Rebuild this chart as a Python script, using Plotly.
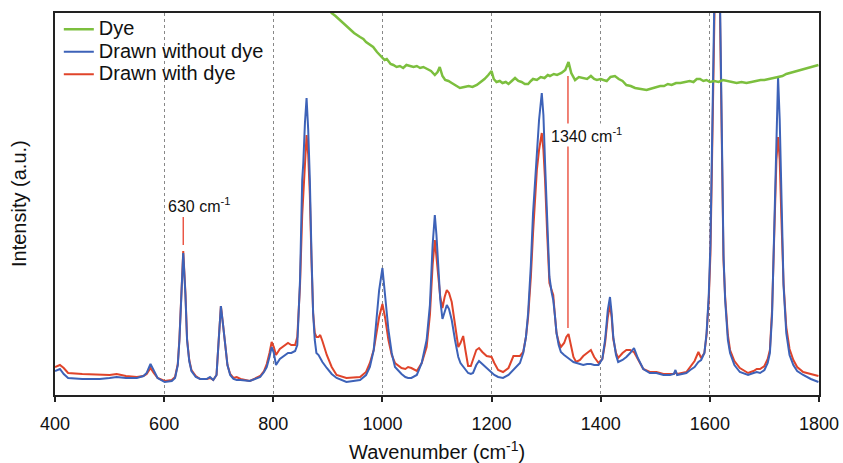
import plotly.graph_objects as go

# ---------------- data ----------------
wavenumber = [400, 409, 416, 424, 450, 482, 500, 513, 530, 550, 562, 568, 575, 581, 588, 601, 614, 620,
              625, 628, 631, 635, 639, 642, 646, 650, 658, 666, 678, 684, 690, 696, 700, 704, 708, 712,
              716, 721, 727, 733, 740, 757, 776, 783, 788, 793, 797, 801, 805, 812, 821, 827, 833, 840,
              844, 849, 853, 855, 858, 861, 864, 867, 870, 873, 876, 879, 883, 886, 890, 898, 907, 916,
              934, 959, 970, 977, 984, 989, 994, 1000, 1005, 1011, 1017, 1023, 1035, 1042, 1047, 1053,
              1063, 1072, 1081, 1087, 1092, 1096, 1099, 1102, 1106, 1110, 1114, 1118, 1122, 1127, 1133,
              1139, 1143, 1148, 1152, 1157, 1162, 1166, 1172, 1177, 1183, 1191, 1200, 1205, 1212, 1221,
              1231, 1240, 1252, 1258, 1263, 1267, 1272, 1276, 1280, 1283, 1287, 1292, 1295, 1298, 1302,
              1306, 1310, 1313, 1316, 1319, 1323, 1327, 1333, 1337, 1341, 1345, 1350, 1355, 1362, 1368,
              1375, 1382, 1388, 1396, 1403, 1408, 1413, 1417, 1420, 1423, 1428, 1432, 1440, 1447, 1454,
              1461, 1468, 1478, 1490, 1502, 1515, 1527, 1534, 1537, 1540, 1557, 1564, 1572, 1579, 1584,
              1590, 1594, 1598, 1601, 1604, 1607, 1610, 1613, 1616, 1619, 1622, 1625, 1628, 1633, 1637,
              1645, 1655, 1670, 1680, 1686, 1692, 1700, 1706, 1710, 1714, 1719, 1722, 1725, 1728, 1731,
              1735, 1740, 1746, 1753, 1760, 1771, 1785, 1799]

drawn_without_dye = [24, 26, 21, 17, 16, 16, 17, 18, 17, 17, 19, 22, 31, 24, 17, 13, 14, 17,
                     30, 55, 100, 142, 100, 55, 34, 24, 18, 16, 16, 18, 15, 20, 55, 89, 70, 48,
                     30, 20, 16, 15, 15, 14, 18, 23, 28, 38, 48, 42, 30, 36, 40, 42, 42, 44,
                     50, 115, 215, 232, 272, 297, 265, 215, 140, 82, 55, 42, 40, 37, 33, 27, 21, 17,
                     13, 15, 20, 28, 45, 75, 105, 127, 100, 65, 42, 28, 21, 18, 17, 17,
                     20, 32, 55, 90, 150, 180, 160, 128, 95, 76, 82, 90, 86, 75, 55,
                     38, 32, 28, 25, 22, 21, 22, 30, 34, 31, 27, 22, 20, 18, 17,
                     20, 25, 32, 42, 58, 82, 130, 182, 220, 245, 275, 302, 280, 232, 170,
                     118, 103, 95, 80, 62, 50, 43, 40, 38, 37, 35, 33, 32, 31, 30,
                     31, 31, 30, 30, 36, 55, 85, 98, 82, 58, 40, 33, 35, 38, 42,
                     47, 37, 26, 22, 22, 20, 20, 21, 25, 20, 22, 25, 28, 33, 35,
                     42, 62, 100, 150, 250, 380, 500, 560, 500, 380, 230, 140, 95, 55, 42,
                     30, 23, 20, 22, 23, 22, 25, 32, 42, 80, 195, 280, 318, 275, 195,
                     110, 62, 40, 30, 24, 20, 16, 13]

drawn_with_dye = [28, 30, 27, 22, 21, 20, 20, 21, 19, 18, 19, 21, 27, 22, 17, 14, 15, 18,
                  31, 56, 102, 144, 102, 56, 35, 25, 19, 16, 16, 17, 15, 20, 55, 89, 70, 48,
                  30, 21, 17, 18, 16, 14, 19, 24, 31, 42, 53, 48, 40, 46, 50, 52, 50, 50,
                  58, 110, 180, 198, 235, 260, 240, 200, 135, 82, 62, 58, 58, 60, 54, 40, 28, 20,
                  17, 18, 23, 32, 45, 62, 78, 91, 77, 55, 40, 32, 27, 26, 28, 27,
                  24, 32, 48, 80, 130, 155, 140, 118, 98, 87, 98, 105, 102, 93, 70,
                  48, 52, 59, 45, 29, 29, 35, 45, 47, 43, 39, 38, 32, 25, 23,
                  27, 39, 39, 43, 58, 78, 118, 162, 200, 225, 245, 262, 245, 215, 160,
                  112, 105, 100, 80, 62, 53, 48, 52, 58, 61, 52, 38, 33, 35, 39,
                  42, 45, 38, 32, 36, 52, 78, 90, 78, 56, 42, 37, 42, 45, 45,
                  43, 36, 26, 23, 23, 21, 21, 21, 23, 21, 23, 28, 34, 43, 37,
                  42, 60, 95, 140, 235, 360, 480, 530, 480, 360, 215, 135, 98, 60, 45,
                  34, 27, 22, 24, 26, 26, 29, 36, 45, 85, 178, 235, 258, 235, 178,
                  112, 68, 46, 35, 28, 23, 21, 19]

dye_wavenumber = [895, 907, 914, 922, 930, 940, 948, 959, 965, 970, 976, 983, 990, 1000, 1004, 1008,
                  1015, 1020, 1026, 1032, 1038, 1044, 1050, 1057, 1063, 1069, 1075, 1082, 1089,
                  1096, 1101, 1105, 1110, 1115, 1121, 1127, 1134, 1142, 1150, 1158, 1165, 1173, 1180,
                  1187, 1194, 1200, 1204, 1209, 1215, 1220, 1226, 1231, 1237, 1243, 1249, 1255, 1261,
                  1267, 1272, 1276, 1283, 1290, 1297, 1303, 1307, 1314, 1320, 1328, 1335, 1341, 1346,
                  1353, 1360, 1368, 1375, 1382, 1388, 1393, 1400, 1405, 1411, 1418, 1426, 1433, 1440,
                  1447, 1455, 1463, 1472, 1478, 1484, 1490, 1496, 1503, 1509, 1516, 1523, 1530, 1538,
                  1546, 1555, 1563, 1570, 1576, 1582, 1588, 1594, 1600, 1608, 1616, 1624, 1631, 1640,
                  1649, 1658, 1667, 1676, 1685, 1693, 1700, 1708, 1716, 1725, 1733, 1740, 1747, 1755,
                  1765, 1772, 1780, 1788, 1794, 1799]
dye = [390, 382, 379, 375, 370, 365, 362, 358, 356, 353, 351, 348, 343, 338, 335, 336,
       331, 330, 328, 329, 327, 330, 329, 328, 329, 327, 328, 326, 324,
       320, 323, 328, 319, 315, 314, 312, 310, 307, 308, 309, 308, 310, 313,
       316, 320, 324, 316, 313, 314, 312, 313, 311, 314, 317, 314, 313, 311,
       311, 314, 316, 315, 318, 317, 320, 319, 321, 320, 322, 325, 333, 322,
       315, 318, 317, 316, 319, 316, 315, 316, 315, 314, 318, 319, 316, 314,
       310, 309, 307, 306, 305, 305, 306, 307, 308, 309, 309, 311, 310, 312,
       312, 313, 314, 313, 316, 316, 314, 315, 313, 314, 313, 315, 314, 313,
       312, 313, 312, 313, 314, 315, 315, 316, 317, 318, 319, 321, 322, 323,
       325, 326, 327, 328, 329, 330]

x_ticks = [400, 600, 800, 1000, 1200, 1400, 1600, 1800]
marker_630 = [635, 150, 178]     # x, y bottom, y top
marker_1340 = [1340, 67, 319]

# ---------------- figure ----------------
def big(label):
    return '<span style="font-size:20px">' + label + '</span>'

fig = go.Figure()
fig.add_trace(go.Scatter(x=wavenumber, y=drawn_with_dye, mode="lines", name=big("Drawn with dye"),
                         line=dict(color="#e0442a", width=2), legendrank=3))
fig.add_trace(go.Scatter(x=wavenumber, y=drawn_without_dye, mode="lines", name=big("Drawn without dye"),
                         line=dict(color="#3d62b8", width=2), legendrank=2))
fig.add_trace(go.Scatter(x=dye_wavenumber, y=dye, mode="lines", name=big("Dye"),
                         line=dict(color="#7cbf3e", width=2.5), legendrank=1))

# annotation marker lines (data coordinates)
for m in (marker_630, marker_1340):
    fig.add_trace(go.Scatter(x=[m[0], m[0]], y=[m[1], m[2]], mode="lines", showlegend=False,
                             line=dict(color="#e8412e", width=1.3), hoverinfo="skip"))

fig.add_annotation(x=603, y=190, text="630 cm<sup>-1</sup>", showarrow=False, xanchor="left",
                   font=dict(size=16, color="#111"))
fig.add_annotation(x=1305, y=260, text="1340 cm<sup>-1</sup>", showarrow=False, xanchor="left",
                   font=dict(size=16, color="#111"), bgcolor="white")

# axis titles
fig.add_annotation(xref="paper", yref="paper", x=0.5, y=0, yshift=-55, yanchor="middle",
                   text="Wavenumber (cm<sup>-1</sup>)", showarrow=False, font=dict(size=20, color="#111"))
fig.add_annotation(xref="paper", yref="paper", x=0, y=0.5, xshift=-36, xanchor="center",
                   text="Intensity (a.u.)", textangle=-90, showarrow=False, font=dict(size=20, color="#111"))

fig.update_layout(
    width=843, height=463,
    margin=dict(l=55, r=24, t=13, b=68, autoexpand=False),
    paper_bgcolor="white", plot_bgcolor="white",
    font=dict(family="Liberation Sans, Arial, sans-serif", color="#111"),
    showlegend=True,
    legend=dict(x=0.005, y=1.0, xanchor="left", yanchor="top", bgcolor="rgba(0,0,0,0)",
                font=dict(size=15), tracegroupgap=0),
)
fig.update_xaxes(range=[400, 1800], tickvals=x_ticks, ticks="outside", ticklen=5, tickwidth=1.5,
                 tickcolor="#222", tickfont=dict(size=18), ticklabelstandoff=6, automargin=False,
                 showline=True, linecolor="#222", linewidth=2, mirror=True,
                 showgrid=True, gridcolor="#888", griddash="dot", gridwidth=1, zeroline=False)
fig.update_yaxes(range=[0, 382], showticklabels=False, ticks="", showgrid=False, zeroline=False,
                 automargin=False, showline=True, linecolor="#222", linewidth=2, mirror=True)

fig.write_html("out.html", config={"displayModeBar": False},
               post_script="document.body.style.margin='0';document.body.style.overflow='hidden';")
